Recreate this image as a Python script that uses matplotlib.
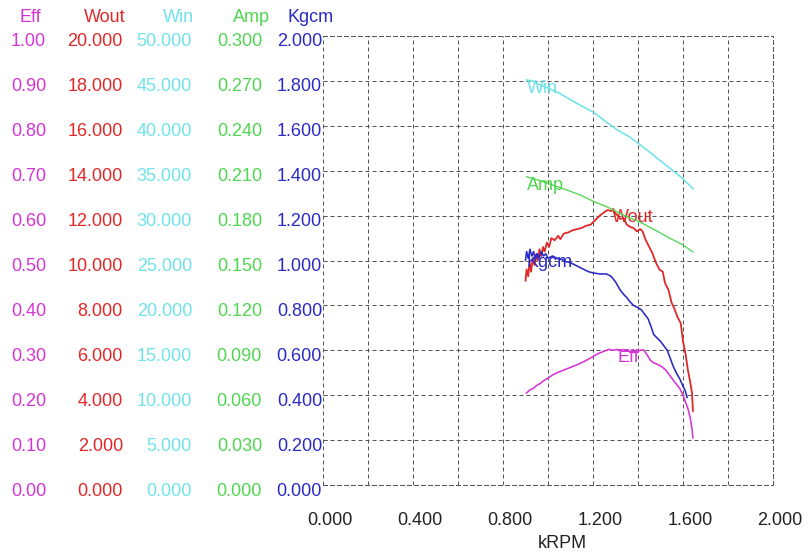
import numpy as np
import matplotlib.pyplot as plt
from matplotlib.transforms import ScaledTranslation

plt.rcParams['font.family'] = ['Liberation Sans', 'DejaVu Sans']

# kRPM Werte und Kurven
win_k = [0.905, 0.930, 0.960, 1.000, 1.053, 1.100, 1.150, 1.209, 1.260, 1.310,
         1.360, 1.409, 1.460, 1.510, 1.560, 1.600, 1.644]
win_v = [45.1, 45.0, 44.6, 44.2, 43.6, 42.9, 42.2, 41.4, 40.4, 39.5,
         38.8, 37.9, 36.9, 35.9, 34.9, 34.1, 33.0]

amp_k = [0.905, 0.950, 1.000, 1.067, 1.140, 1.209, 1.260, 1.340, 1.409, 1.480,
         1.540, 1.600, 1.644]
amp_v = [0.206, 0.204, 0.2015, 0.198, 0.194, 0.189, 0.186, 0.180, 0.1757, 0.170,
         0.165, 0.1604, 0.1557]

wout_k = [0.900, 0.905, 0.912, 0.918, 0.925, 0.932, 0.940, 0.948, 0.955, 0.962,
          0.970, 0.978, 0.985, 0.995, 1.005, 1.015, 1.030, 1.045, 1.055, 1.070,
          1.090, 1.110, 1.130, 1.150, 1.170, 1.190, 1.210, 1.230, 1.250, 1.265,
          1.280, 1.290, 1.300, 1.310, 1.320, 1.335, 1.350, 1.365, 1.380, 1.395,
          1.410, 1.420, 1.435, 1.450, 1.465, 1.480, 1.495, 1.510, 1.520, 1.535,
          1.550, 1.560, 1.575, 1.590, 1.600, 1.612, 1.622, 1.632, 1.640, 1.644]
wout_v = [9.1, 9.6, 9.3, 9.9, 9.5, 10.1, 9.8, 10.3, 10.0, 10.5,
          10.2, 10.6, 10.4, 10.8, 10.6, 11.0, 10.9, 11.1, 10.95, 11.2,
          11.25, 11.35, 11.4, 11.45, 11.55, 11.6, 11.8, 12.0, 12.15, 12.25,
          12.2, 12.3, 12.1, 12.0, 11.85, 11.9, 11.6, 11.5, 11.45, 11.3,
          11.4, 11.3, 10.9, 10.6, 10.3, 9.9, 9.6, 9.5, 9.0, 8.7,
          8.1, 7.9, 7.5, 7.2, 6.4, 5.8, 5.1, 4.6, 4.1, 3.3]

kg_k = [0.900, 0.905, 0.912, 0.920, 0.928, 0.936, 0.944, 0.952, 0.960, 0.970,
        0.980, 0.990, 1.000, 1.020, 1.040, 1.060, 1.080, 1.100, 1.120, 1.140,
        1.160, 1.180, 1.200, 1.230, 1.260, 1.280, 1.300, 1.320, 1.335, 1.350,
        1.365, 1.380, 1.400, 1.415, 1.430, 1.445, 1.460, 1.470, 1.485, 1.500,
        1.515, 1.530, 1.545, 1.556, 1.570, 1.587, 1.600, 1.610, 1.618]
kg_v = [1.00, 1.04, 1.01, 1.05, 1.02, 1.04, 1.00, 1.03, 1.01, 1.04,
        1.02, 1.03, 1.01, 1.02, 1.01, 1.005, 0.995, 0.99, 0.98, 0.97,
        0.96, 0.95, 0.945, 0.94, 0.94, 0.93, 0.905, 0.87, 0.85, 0.835,
        0.815, 0.80, 0.79, 0.78, 0.76, 0.74, 0.70, 0.67, 0.655, 0.64,
        0.62, 0.60, 0.56, 0.53, 0.50, 0.47, 0.44, 0.42, 0.39]

eff_k = [0.905, 0.920, 0.935, 0.950, 0.965, 0.980, 1.000, 1.020, 1.040, 1.060,
         1.080, 1.100, 1.130, 1.160, 1.190, 1.220, 1.250, 1.270, 1.290, 1.310,
         1.330, 1.360, 1.390, 1.410, 1.425, 1.440, 1.455, 1.470, 1.490, 1.510,
         1.525, 1.540, 1.556, 1.570, 1.587, 1.600, 1.610, 1.622, 1.632, 1.640, 1.644]
eff_v = [0.205, 0.212, 0.215, 0.222, 0.226, 0.232, 0.238, 0.245, 0.250, 0.254,
         0.258, 0.262, 0.268, 0.275, 0.283, 0.292, 0.298, 0.302, 0.300, 0.302,
         0.298, 0.298, 0.297, 0.300, 0.301, 0.290, 0.278, 0.272, 0.268, 0.262,
         0.255, 0.245, 0.234, 0.225, 0.214, 0.200, 0.186, 0.170, 0.150, 0.125, 0.105]

# Achsen: Name, Maximum, Format, Farbe, Abstand links (px)
achsen = [("Eff", 1.0, "%.2f", "#d535d5", 276),
          ("Wout", 20.0, "%.3f", "#e02828", 199),
          ("Win", 50.0, "%.3f", "#6fe3ea", 130),
          ("Amp", 0.3, "%.3f", "#4fd64f", 60),
          ("Kgcm", 2.0, "%.3f", "#2a2ac4", 0)]
kopf_x = [30, 105, 178, 251, 311]

fs = 18
W, H = 808, 556
gitter = dict(color="#555555", lw=1, ls=(0, (4, 3)))
fig = plt.figure(figsize=(W / 72, H / 72), dpi=72)
ax = fig.add_axes([323 / W, 71 / H, 450 / W, 449 / H])
ax.set_xlim(0, 2)
ax.set_ylim(0, 2)
ax.set_xticks(np.linspace(0, 2, 6))
ax.set_xticks(np.linspace(0, 2, 11), minor=True)
ax.set_yticks(np.linspace(0, 2, 11))
ax.xaxis.set_major_formatter("{x:.3f}")
ax.yaxis.set_major_formatter("{x:.3f}")
ax.grid(True, which="both", axis="x", **gitter)
ax.grid(True, which="major", axis="y", **gitter)
for s in ax.spines.values():
    s.set_visible(False)
# Rahmen oben/rechts/unten gestrichelt wie das Gitter
for s in ("top", "right", "bottom"):
    ax.spines[s].set_visible(True)
    ax.spines[s].set_color(gitter["color"])
    ax.spines[s].set_linestyle(gitter["ls"])
    ax.spines[s].set_linewidth(1)
ax.tick_params(axis="x", which="both", length=0, pad=27, labelsize=fs, colors="#222222")
ax.tick_params(axis="y", direction="in", length=4, pad=1, labelsize=fs,
               labelcolor=achsen[4][3], color="#555555")
for lab in ax.get_xticklabels():
    lab.set_transform(lab.get_transform() + ScaledTranslation(7 / 72, 0, fig.dpi_scale_trans))
ax.set_xlabel("kRPM", fontsize=fs, color="#222222")
ax.xaxis.set_label_coords((562 - 323) / 450, (13 - 71) / 449)
ax.xaxis.label.set_va("center")

runter = ScaledTranslation(0, -4 / 72, fig.dpi_scale_trans)
for lab in ax.get_yticklabels():
    lab.set_transform(lab.get_transform() + runter)

ax_ach = {}
for name, ymax, fmt, col, off in achsen[:4]:
    tw = ax.twinx()
    tw.set_ylim(0, ymax)
    tw.set_yticks(np.linspace(0, ymax, 11))
    tw.yaxis.tick_left()
    tw.spines["left"].set_position(("outward", off))
    for s in tw.spines.values():
        s.set_visible(False)
    tw.yaxis.set_major_formatter(plt.FormatStrFormatter(fmt))
    tw.tick_params(axis="y", length=0, pad=1, labelsize=fs, labelcolor=col)
    for lab in tw.get_yticklabels():
        lab.set_transform(lab.get_transform() + runter)
    ax_ach[name] = tw

# eigene Ebene fuer Kgcm-Kurve (ueber Wout)
kg_ax = fig.add_axes(ax.get_position(), sharex=ax, sharey=ax)
kg_ax.axis("off")
ax_ach["Kgcm"] = kg_ax
eff_ax = ax_ach.pop("Eff")
# Eff zuletzt zeichnen
eff_ax.set_zorder(kg_ax.get_zorder() + 1)

for (name, ymax, fmt, col, off), xk in zip(achsen, kopf_x):
    fig.text(xk / W, 1 - 18 / H, name, ha="center", va="center", fontsize=fs, color=col)

farbe = {a[0]: a[3] for a in achsen}
ax_ach["Win"].plot(win_k, win_v, color=farbe["Win"], lw=1.6)
ax_ach["Amp"].plot(amp_k, amp_v, color=farbe["Amp"], lw=1.3)
ax_ach["Wout"].plot(wout_k, wout_v, color=farbe["Wout"], lw=1.8)
kg_ax.plot(kg_k, kg_v, color=farbe["Kgcm"], lw=1.6)
eff_ax.plot(eff_k, eff_v, color=farbe["Eff"], lw=1.6)

# Kurvenbeschriftungen
ax_ach["Win"].text(0.905, 44.2, "Win", color=farbe["Win"], fontsize=fs, va="center")
ax_ach["Amp"].text(0.905, 0.200, "Amp", color=farbe["Amp"], fontsize=fs, va="center")
ax_ach["Wout"].text(1.284, 11.9, "Wout", color=farbe["Wout"], fontsize=fs, va="center")
kg_ax.text(0.905, 0.993, "Kgcm", color=farbe["Kgcm"], fontsize=fs, va="center")
eff_ax.text(1.307, 0.283, "Eff", color=farbe["Eff"], fontsize=fs, va="center")

plt.savefig("out.png", dpi=72)
